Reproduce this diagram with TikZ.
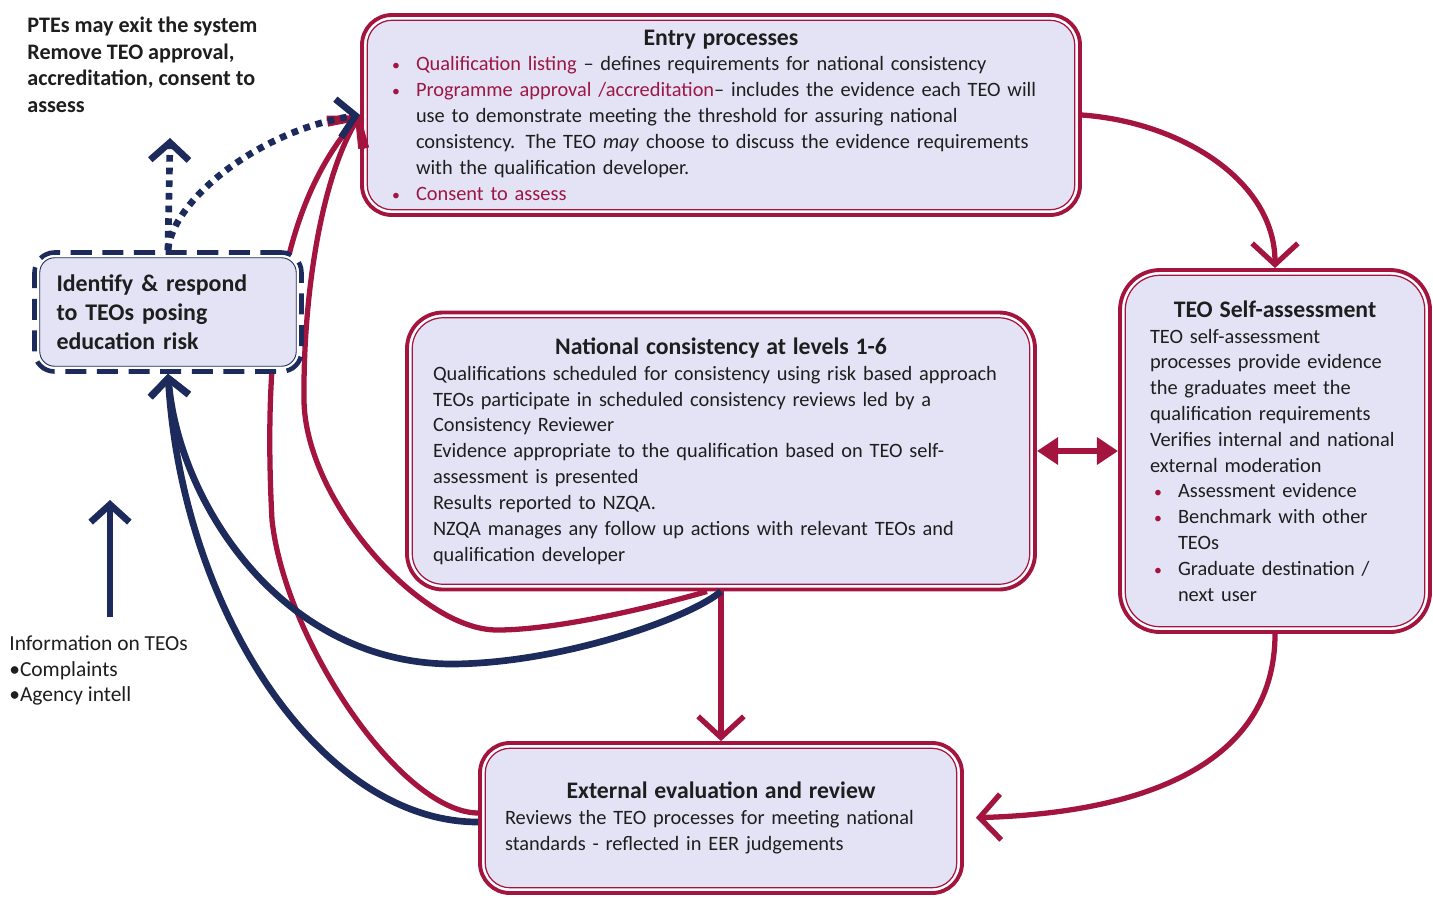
\documentclass[tikz,border=0pt]{standalone}
\usepackage{fontspec}
\setmainfont{Carlito}
\usetikzlibrary{arrows.meta}
\definecolor{crim}{HTML}{A3153F}
\definecolor{crimtext}{HTML}{9C1745}
\definecolor{navy}{HTML}{1C2A5C}
\definecolor{lav}{HTML}{E3E3F5}
\definecolor{ink}{HTML}{1E1E1E}
\newlength{\pxu}
\setlength{\pxu}{0.02cm}
\newcommand{\hl}[1]{\textcolor{crimtext}{#1}}
\newcommand{\bul}[1]{\par{\leftskip=28\pxu\noindent
  \llap{\makebox[24\pxu][l]{\textcolor{crim}{\small\textbullet}}}#1\par}}
\newcommand{\boxtitle}[1]{{\centering\bfseries\fontsize{13.5}{16}\selectfont #1\par}}

\begin{document}
\begin{tikzpicture}[x=0.02cm, y=-0.02cm, text=ink,
  box/.style={draw=crim, line width=2.2pt, fill=white, rounded corners=#1*0.02cm,
    font=\fontsize{11.6}{14.7}\selectfont, inner sep=0pt,
    path picture={\draw[crim, line width=.7pt, fill=lav, rounded corners=#1*0.02cm-3pt]
      ([shift={(3pt,-3pt)}]path picture bounding box.north west) rectangle
      ([shift={(-3pt,3pt)}]path picture bounding box.south east);}},
  box/.default=30,
  riskbox/.style={draw=navy, line width=2.6pt, dash pattern=on 12pt off 6pt, fill=white,
    rounded corners=20*0.02cm, font=\fontsize{13.6}{16.4}\selectfont\bfseries, align=left, inner sep=0pt,
    path picture={\draw[navy, solid, line width=.5pt, fill=lav, rounded corners=20*0.02cm-3pt]
      ([shift={(3pt,-3pt)}]path picture bounding box.north west) rectangle
      ([shift={(-3pt,3pt)}]path picture bounding box.south east);}},
  note/.style={align=left, inner sep=0pt, anchor=north west},
  redline/.style={draw=crim, line width=3pt, -{Straight Barb[length=12pt, width=26pt]}},
  navyline/.style={draw=navy, line width=3.8pt, -{Straight Barb[length=10pt, width=22pt]}},
  dotline/.style={navyline, dash pattern=on 3.8pt off 3.4pt},
  twohead/.style={draw=crim, line width=3.2pt, {Triangle[length=12pt, width=15pt]}-{Triangle[length=12pt, width=15pt]}}]

  \path[use as bounding box, fill=white] (0,0) rectangle (1433,897);

  % boxes of the cycle
  \node[box, minimum width=718\pxu, minimum height=200\pxu, text width=666\pxu] (entry) at (721,115) {
    \boxtitle{Entry processes}
    \raggedright
    \bul{\hl{Qualification listing} -- defines requirements for national consistency}
    \bul{\hl{Programme approval /accreditation}-- includes the evidence each TEO will\\
      use to demonstrate meeting the threshold for assuring national\\
      consistency. The TEO \emph{may} choose to discuss the evidence requirements\\
      with the qualification developer.}
    \bul{\hl{Consent to assess}}
  };
  \node[box=40, minimum width=310\pxu, minimum height=362\pxu, text width=250\pxu] (selfassess) at (1275,451) {
    \boxtitle{TEO Self-assessment}
    \raggedright
    TEO self-assessment\\ processes provide evidence\\ the graduates meet the\\
    qualification requirements\\ Verifies internal and national\\ external moderation\par
    \bul{Assessment evidence}
    \bul{Benchmark with other\\ TEOs}
    \bul{Graduate destination /\\ next user}
  };
  \node[box=36, minimum width=628\pxu, minimum height=277\pxu, text width=576\pxu] (natcons) at (721,451) {
    \boxtitle{National consistency at levels 1-6}
    \raggedright
    Qualifications scheduled for consistency using risk based approach\\
    TEOs participate in scheduled consistency reviews led by a\\
    Consistency Reviewer\\
    Evidence appropriate to the qualification based on TEO self-\\
    assessment is presented\\
    Results reported to NZQA.\\
    NZQA manages any follow up actions with relevant TEOs and\\
    qualification developer\par
  };
  \node[box, minimum width=482\pxu, minimum height=150\pxu, text width=432\pxu] (exteval) at (721,818) {
    \boxtitle{External evaluation and review}
    \raggedright
    Reviews the TEO processes for meeting national\\
    standards - reflected in EER judgements\par
  };

  % red flow
  \draw[redline] (entry.east) .. controls +(98,7) and +(0,-88) .. (selfassess.north);
  \draw[redline, shorten >=12\pxu] (selfassess.south) .. controls +(0,130) and +(180,-5) .. (exteval.east);
  \draw[redline] (natcons.south) -- (exteval.north);
  \draw[twohead] (natcons.east) -- (selfassess.west);
  \draw[redline] ([yshift=5\pxu]exteval.west) .. controls (400,812) and (285,640) .. (272,520)
    .. controls (262,330) and (285,200) .. (entry.west);
  \draw[redline] ([xshift=-14\pxu]natcons.south) .. controls (660,605) and (560,630) .. (497,630)
    .. controls (420,630) and (305,500) .. (304,400) .. controls (303,300) and (320,180) .. (entry.west);

  % risk side
  \node[riskbox, minimum width=267\pxu, minimum height=119\pxu, text width=223\pxu] (identify) at (168,312)
    {Identify \& respond\\ to TEOs posing\\ education risk};
  \node[note, font=\fontsize{12.6}{15.1}\selectfont\bfseries] (ptes) at (27,17)
    {PTEs may exit the system\\ Remove TEO approval,\\ accreditation, consent to\\ assess};
  \node[note, font=\fontsize{12.2}{14.7}\selectfont] (info) at (9,635)
    {Information on TEOs\\ \textbullet Complaints\\ \textbullet Agency intell};
  \coordinate (exit) at (170,138);
  \coordinate (infotip) at (110,500);

  \draw[navyline] (natcons.south) .. controls (690,618) and (560,664) .. (450,664)
    .. controls (280,662) and (178,500) .. (identify.south);
  \draw[navyline] ([yshift=-4\pxu]exteval.west) .. controls (320,822) and (182,610) .. (identify.south);
  \draw[navyline] (info.north -| infotip) ++(0,-18) -- (infotip);
  \draw[dotline] (identify.north) -- (exit);
  \draw[dotline] (identify.north) .. controls (172,200) and (260,130) .. (entry.west);
\end{tikzpicture}
\end{document}
